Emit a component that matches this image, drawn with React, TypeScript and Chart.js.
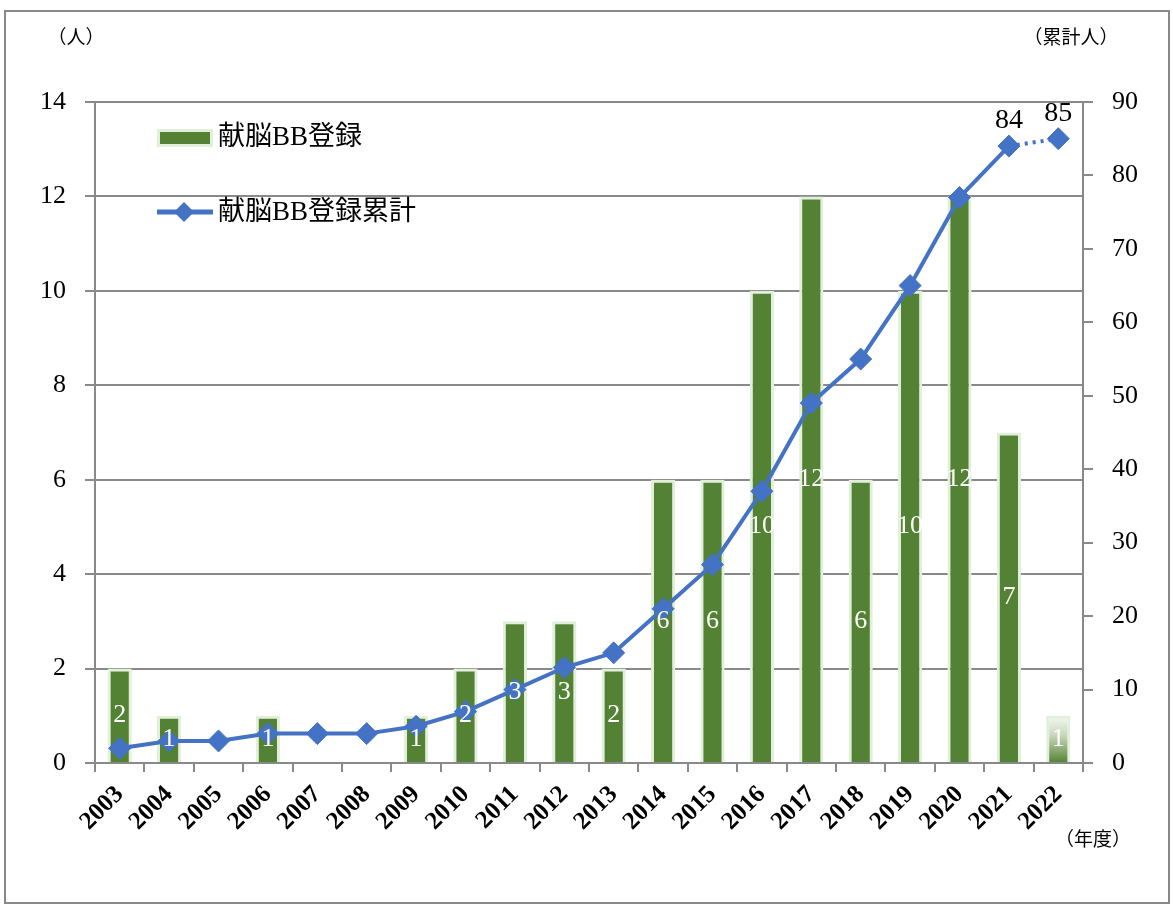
import React, { useEffect, useRef } from "react";
import { Chart, registerables } from "chart.js";

Chart.register(...registerables);

const years = ["2003", "2004", "2005", "2006", "2007", "2008", "2009", "2010", "2011", "2012", "2013", "2014", "2015", "2016", "2017", "2018", "2019", "2020", "2021", "2022"];
const registrations = [2, 1, 0, 1, 0, 0, 1, 2, 3, 3, 2, 6, 6, 10, 12, 6, 10, 12, 7, 1];
const cumulative = [2, 3, 3, 4, 4, 4, 5, 7, 10, 13, 15, 21, 27, 37, 49, 55, 65, 77, 84, 85];
const labeledCumulativeIdx = [18, 19];
const leftAxisMax = 14;
const leftAxisStep = 2;
const rightAxisMax = 90;
const rightAxisStep = 10;
const barName = "献脳BB登録";
const lineName = "献脳BB登録累計";
const leftUnit = "（人）";
const rightUnit = "（累計人）";
const xUnit = "（年度）";

const SERIF = "'Liberation Serif', 'Noto Sans CJK JP', serif";
const GREEN = "#548235";
const LIGHT_GREEN = "#E2EFDA";
const BLUE = "#4472C4";
const GRID = "#898989";

const overlayPlugin = {
  id: "overlay",
  afterDatasetsDraw(chart: any) {
    const ctx = chart.ctx;
    ctx.save();
    const barMeta = chart.getDatasetMeta(0);
    ctx.font = `26px ${SERIF}`;
    ctx.fillStyle = "#ffffff";
    ctx.textAlign = "center";
    ctx.textBaseline = "middle";
    barMeta.data.forEach((el: any, i: number) => {
      const v = registrations[i];
      if (!v) return;
      ctx.fillText(String(v), el.x, (el.y + el.base) / 2);
    });
    const lineMeta = chart.getDatasetMeta(1);
    ctx.fillStyle = "#000000";
    ctx.textBaseline = "alphabetic";
    ctx.font = `28px ${SERIF}`;
    labeledCumulativeIdx.forEach((i) => {
      const el = lineMeta.data[i];
      ctx.fillText(String(cumulative[i]), el.x, el.y - 18);
    });
    const lx = 157;
    ctx.fillStyle = LIGHT_GREEN;
    ctx.fillRect(lx, 129, 56, 18);
    ctx.fillStyle = GREEN;
    ctx.fillRect(lx + 3, 132, 50, 12);
    ctx.fillStyle = "#000";
    ctx.font = `27px ${SERIF}`;
    ctx.textAlign = "left";
    ctx.textBaseline = "middle";
    ctx.fillText(barName, 218, 138);
    ctx.strokeStyle = BLUE;
    ctx.lineWidth = 5;
    ctx.beginPath();
    ctx.moveTo(lx, 212);
    ctx.lineTo(lx + 56, 212);
    ctx.stroke();
    ctx.fillStyle = BLUE;
    ctx.beginPath();
    ctx.moveTo(184, 202);
    ctx.lineTo(194, 212);
    ctx.lineTo(184, 222);
    ctx.lineTo(174, 212);
    ctx.closePath();
    ctx.fill();
    ctx.fillStyle = "#000";
    ctx.fillText(lineName, 218, 213);
    ctx.font = `19px ${SERIF}`;
    ctx.textAlign = "center";
    ctx.fillText(leftUnit, 76, 39);
    ctx.fillText(rightUnit, 1071, 39);
    ctx.fillText(xUnit, 1093, 841);
    ctx.restore();
  },
};

export default function App() {
  const ref = useRef<HTMLCanvasElement>(null);
  useEffect(() => {
    if (!ref.current) return;
    const lastIdx = registrations.length - 1;
    const chart = new Chart(ref.current, {
      type: "bar",
      data: {
        labels: years,
        datasets: [
          {
            type: "bar",
            label: barName,
            data: registrations,
            yAxisID: "y",
            order: 2,
            backgroundColor: (c: any) => {
              const ch = c.chart;
              if (c.dataIndex === lastIdx && c.type === "data") {
                const sc = ch.scales && ch.scales.y;
                if (!sc) return GREEN;
                const top = sc.getPixelForValue(registrations[lastIdx]);
                const base = sc.getPixelForValue(0);
                if (!isFinite(top) || !isFinite(base) || top === base) return GREEN;
                const g = ch.ctx.createLinearGradient(0, base, 0, top);
                g.addColorStop(0, GREEN);
                g.addColorStop(0.6, "#C9D9BE");
                g.addColorStop(1, "#F4F8F1");
                return g;
              }
              return GREEN;
            },
            borderColor: LIGHT_GREEN,
            borderWidth: 3,
            barPercentage: 0.49,
            categoryPercentage: 1,
          } as any,
          {
            type: "line",
            label: lineName,
            data: cumulative,
            yAxisID: "y2",
            order: 1,
            borderColor: BLUE,
            backgroundColor: BLUE,
            borderWidth: 4,
            pointStyle: "rectRot",
            pointRadius: 11,
            pointBorderWidth: 1,
            pointBackgroundColor: BLUE,
            pointBorderColor: BLUE,
            tension: 0,
            segment: {
              borderDash: (s: any) => (s.p1DataIndex === lastIdx ? [3, 5] : undefined),
            },
          } as any,
        ],
      },
      options: {
        animation: false,
        responsive: false,
        devicePixelRatio: 1,
        layout: { padding: { top: 102, left: 0, right: 0, bottom: 0 } },
        plugins: { legend: { display: false }, tooltip: { enabled: false } },
        scales: {
          x: {
            offset: true,
            grid: { drawOnChartArea: false, drawTicks: true, tickLength: 9, color: GRID, lineWidth: 2, offset: true },
            border: { display: true, color: GRID, width: 2 },
            ticks: {
              autoSkip: false,
              minRotation: 45,
              maxRotation: 45,
              padding: 8,
              color: "#000",
              font: { family: SERIF, size: 25, weight: "bold" },
            },
            afterFit: (s: any) => {
              s.height = 142;
            },
          },
          y: {
            position: "left",
            min: 0,
            max: leftAxisMax,
            ticks: { stepSize: leftAxisStep, padding: 19, color: "#000", font: { family: SERIF, size: 26 } },
            grid: { color: GRID, lineWidth: 2, tickLength: 10, drawTicks: true },
            border: { display: true, color: GRID, width: 2 },
            afterFit: (s: any) => {
              s.width = 95;
            },
          },
          y2: {
            position: "right",
            min: 0,
            max: rightAxisMax,
            ticks: { stepSize: rightAxisStep, padding: 19, color: "#000", font: { family: SERIF, size: 26 } },
            grid: { drawOnChartArea: false, color: GRID, lineWidth: 2, tickLength: 10, drawTicks: true },
            border: { display: true, color: GRID, width: 2 },
            afterFit: (s: any) => {
              s.width = 90;
            },
          },
        },
      } as any,
      plugins: [overlayPlugin],
    });
    return () => chart.destroy();
  }, []);

  return (
    <div style={{ position: "absolute", left: 0, top: 0, width: 1173, height: 905, background: "#fff" }}>
      <canvas ref={ref} width={1173} height={905} style={{ position: "absolute", left: 0, top: 0, width: 1173, height: 905 }} />
      <div
        style={{
          position: "absolute",
          left: 4,
          top: 10,
          width: 1166,
          height: 894,
          border: `2px solid ${GRID}`,
          boxSizing: "border-box",
          pointerEvents: "none",
        }}
      />
    </div>
  );
}
